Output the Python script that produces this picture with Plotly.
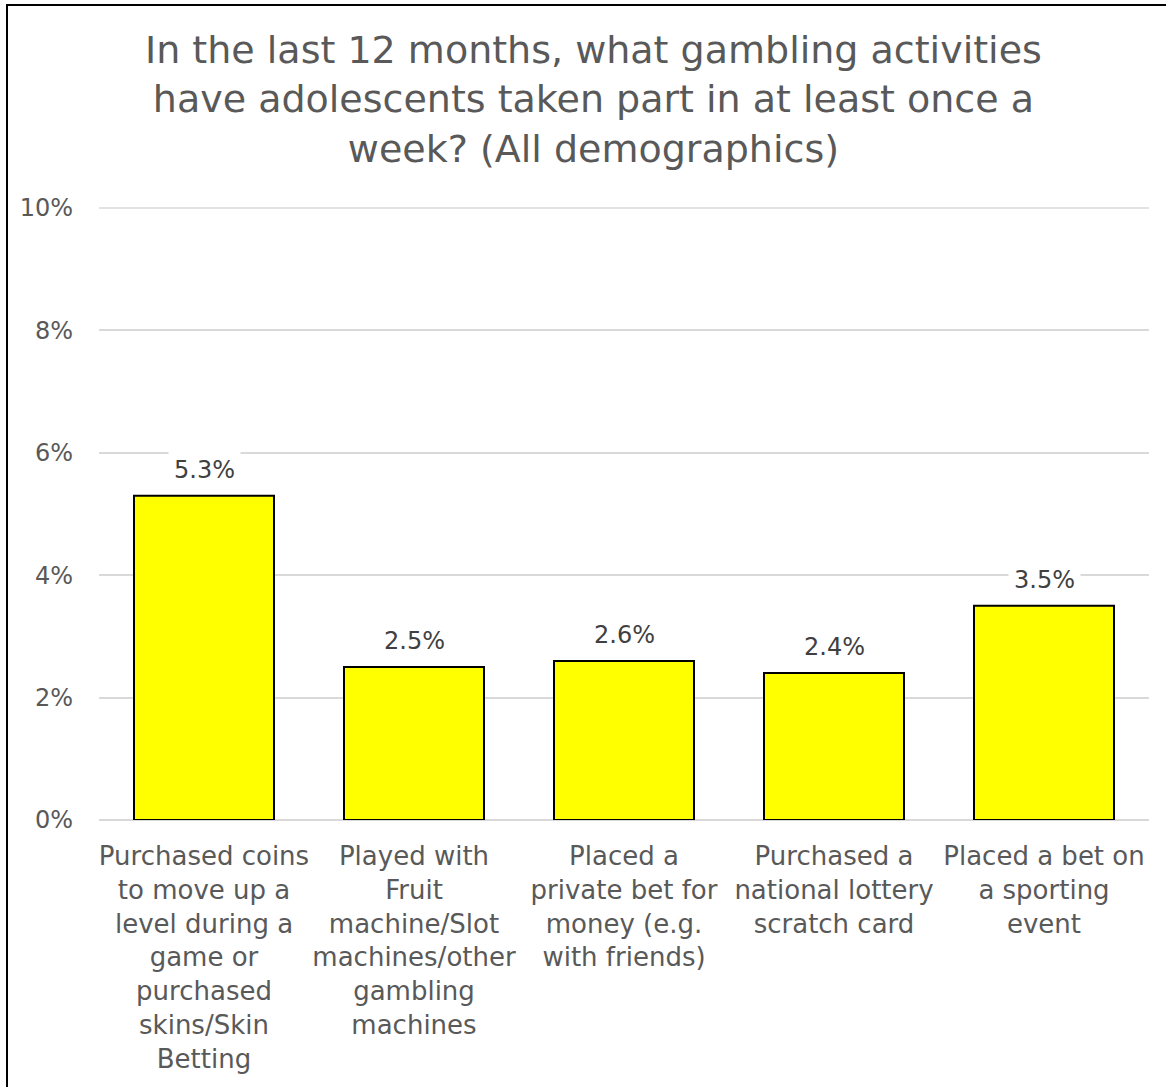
import plotly.graph_objects as go

# Weekly participation in gambling activities (share of adolescents, %)
categories = [
    "Purchased coins<br>to move up a<br>level during a<br>game or<br>purchased<br>skins/Skin<br>Betting",
    "Played with<br>Fruit<br>machine/Slot<br>machines/other<br>gambling<br>machines",
    "Placed a<br>private bet for<br>money (e.g.<br>with friends)",
    "Purchased a<br>national lottery<br>scratch card",
    "Placed a bet on<br>a sporting<br>event",
]
values = [5.3, 2.5, 2.6, 2.4, 3.5]
y_ticks = [0, 2, 4, 6, 8, 10]
y_tick_labels = [f"{t}%" for t in y_ticks]

title_text = ("In the last 12 months, what gambling activities<br>"
              "have adolescents taken part in at least once a<br>"
              "week? (All demographics)")

W, H = 1166, 1087
L, R, T, B = 99, 17, 208, 267
pw, ph = W - L - R, H - T - B

FONT = "DejaVu Sans"
GRID = "#d9d9d9"

fig = go.Figure()
fig.add_trace(go.Bar(
    x=categories,
    y=values,
    marker=dict(color="#FFFF00", line=dict(color="#000000", width=2)),
    hoverinfo="skip",
))

# Value labels with a white backing so gridlines break around them
for c, v in zip(categories, values):
    fig.add_annotation(
        x=c, y=v, xref="x", yref="y",
        text=f"{v}%", showarrow=False,
        yanchor="bottom", yshift=6,
        font=dict(family=FONT, size=24, color="#404040"),
        bgcolor="white", borderpad=5,
    )

# Chart title
fig.add_annotation(
    text=title_text, showarrow=False,
    xref="paper", yref="paper",
    x=(593 - L) / pw, xanchor="center",
    y=(H - B - 26) / ph, yanchor="top",
    align="center",
    font=dict(family=FONT, size=38, color="#595959"),
)

# Top gridline (10%) along the upper edge of the plot area
fig.add_shape(
    type="line", xref="paper", yref="paper",
    x0=0, x1=1, y0=1, y1=1,
    line=dict(color=GRID, width=1.5), layer="below",
)

# Chart frame
fig.add_shape(
    type="rect", xref="paper", yref="paper",
    x0=(7 - L) / pw, x1=(W + 20 - L) / pw,
    y0=-(B + 20) / ph, y1=(H - B - 5) / ph,
    line=dict(color="#000000", width=2), fillcolor="rgba(0,0,0,0)",
    layer="below",
)

fig.update_layout(
    width=W, height=H,
    margin=dict(l=L, r=R, t=T, b=B),
    paper_bgcolor="white", plot_bgcolor="white",
    bargap=1/3,
    showlegend=False,
    font=dict(family=FONT, color="#595959"),
)

fig.update_xaxes(
    showgrid=False, showline=False, ticks="",
    tickfont=dict(family=FONT, size=26, color="#595959"),
    tickangle=0, ticklabelstandoff=18,
)
fig.update_yaxes(
    range=[0, 10], tickvals=y_ticks, ticktext=y_tick_labels,
    showgrid=True, gridcolor=GRID, gridwidth=1.5,
    zeroline=True, zerolinecolor=GRID, zerolinewidth=1.5,
    showline=False, ticks="", ticklabelstandoff=25,
    tickfont=dict(family=FONT, size=24, color="#595959"),
)

fig.write_html("out.html")
